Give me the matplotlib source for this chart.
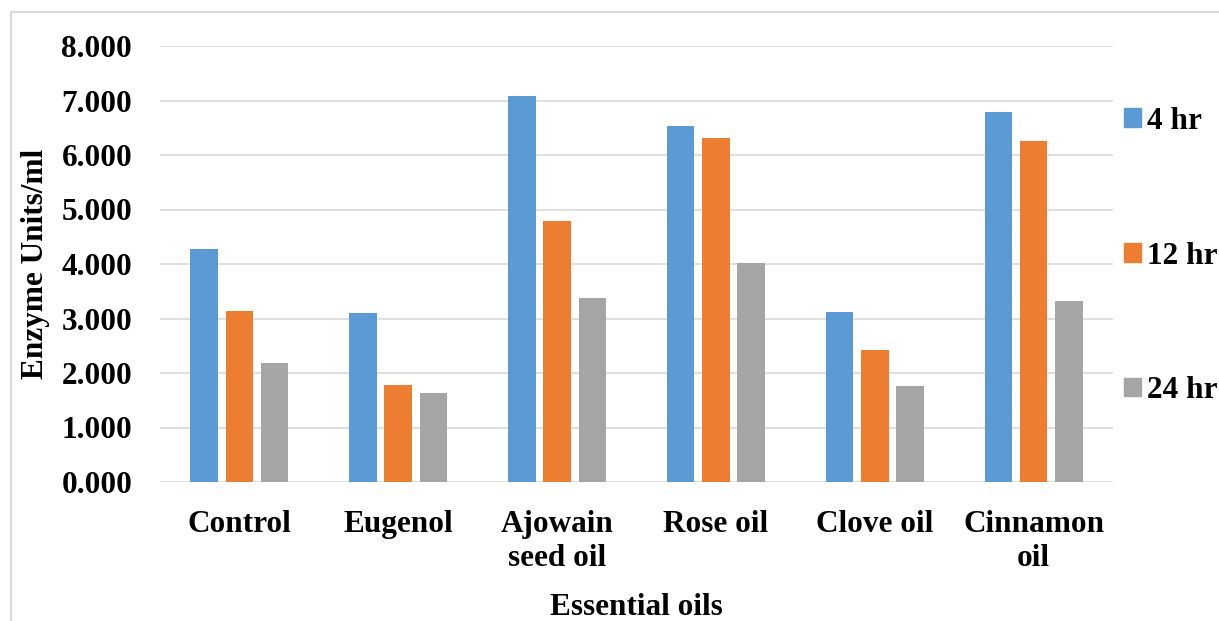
import matplotlib.pyplot as plt
import matplotlib.patches as mpatches
import numpy as np

categories = ['Control', 'Eugenol', 'Ajowain\nseed oil', 'Rose oil', 'Clove oil', 'Cinnamon\noil']
hr4 = [4.28, 3.10, 7.09, 6.54, 3.12, 6.78]
hr12 = [3.14, 1.78, 4.78, 6.31, 2.42, 6.26]
hr24 = [2.19, 1.64, 3.38, 4.02, 1.77, 3.32]
series_labels = ['4 hr', '12 hr', '24 hr']
colors = ['#5B9BD5', '#ED7D31', '#A5A5A5']

plt.rcParams['font.family'] = ['Liberation Serif', 'DejaVu Serif']
plt.rcParams['font.weight'] = 'bold'
fs = 22.5

fig = plt.figure(figsize=(12.19, 6.21), dpi=100)
ax = fig.add_axes([160 / 1219, 1 - 482 / 621, (1113 - 160) / 1219, (482 - 46) / 621])

# outer chart border (partly cut off right/bottom)
fig.patches.append(mpatches.Rectangle((11 / 1219, -0.1), 1.2, 1 - 12 / 621 + 0.1,
                                      transform=fig.transFigure, fill=False,
                                      edgecolor='#d9d9d9', linewidth=1.5))

x = np.arange(len(categories))
width = 0.174
step = 0.222
for i, (vals, lab, c) in enumerate(zip([hr4, hr12, hr24], series_labels, colors)):
    ax.bar(x + (i - 1) * step, vals, width, color=c, label=lab, zorder=3)

ax.set_xlim(-0.5, len(categories) - 0.5)
ax.set_ylim(0, 8)
ax.set_yticks(np.arange(0, 9, 1))
ax.set_yticklabels(['%.3f' % v for v in np.arange(0, 9, 1)], fontsize=fs, fontweight='bold')
ax.set_xticks(x)
ax.set_xticklabels(categories, fontsize=fs, fontweight='bold', linespacing=1.25)
ax.tick_params(axis='y', length=0, pad=20)
ax.tick_params(axis='x', length=0, pad=20)
ax.grid(axis='y', color='#d9d9d9', linewidth=1.2, zorder=0)
for s in ax.spines.values():
    s.set_visible(False)

ax.set_ylabel('Enzyme Units/ml', fontsize=fs, fontweight='bold', labelpad=8)
ax.set_xlabel('Essential oils', fontsize=fs, fontweight='bold', labelpad=14)

handles = [mpatches.Patch(color=c) for c in colors]
fig.legend(handles, series_labels, loc='center left', bbox_to_anchor=(1124 / 1219, 1 - 256 / 621),
           frameon=False, prop={'size': fs, 'weight': 'bold'},
           handlelength=0.55, handleheight=0.55, handletextpad=0.2, labelspacing=3.38,
           borderaxespad=0, borderpad=0)

plt.savefig('out.png', dpi=100)
